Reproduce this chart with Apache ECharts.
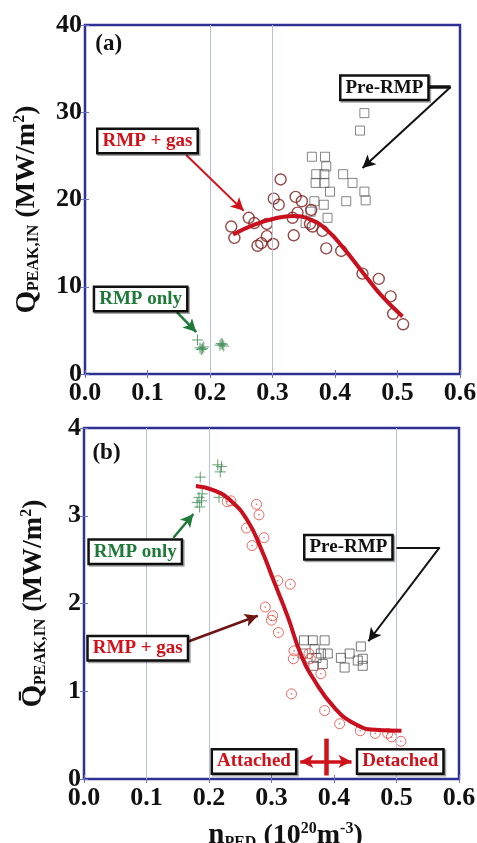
<!DOCTYPE html>
<html><head><meta charset="utf-8">
<script src="https://cdn.jsdelivr.net/npm/echarts@6/dist/echarts.min.js"></script>
<style>html,body{margin:0;padding:0;background:#fff}#c{width:477px;height:843px}</style>
</head><body><div id="c"></div>
<script>
// ---- data (a) ----
const xTicks = ['0.0','0.1','0.2','0.3','0.4','0.5','0.6'];
const aRmpGas = [[0.234,16.9],[0.239,15.6],[0.262,17.9],[0.271,17.3],[0.291,17.2],[0.276,14.7],[0.282,15.0],[0.291,15.8],[0.301,14.9],[0.302,20.1],[0.310,19.4],[0.313,22.3],[0.332,17.9],[0.334,15.9],[0.337,20.3],[0.340,18.5],[0.347,19.8],[0.362,18.8],[0.360,17.2],[0.364,16.9],[0.380,16.4],[0.386,14.4],[0.410,14.1],[0.444,11.5],[0.470,10.9],[0.489,8.9],[0.493,6.9],[0.509,5.7]];
const aPreRmp = [[0.447,29.9],[0.440,27.9],[0.363,24.9],[0.384,24.9],[0.386,23.8],[0.370,22.9],[0.383,22.9],[0.413,22.9],[0.369,21.9],[0.383,21.9],[0.428,21.9],[0.392,20.9],[0.447,20.9],[0.449,19.9],[0.418,19.8],[0.367,19.8],[0.382,19.4],[0.361,18.6],[0.388,17.9],[0.353,17.3]];
const aRmpOnly = [[0.180,3.9],[0.184,3.0],[0.188,2.9],[0.190,3.1],[0.186,2.8],[0.216,3.3],[0.220,3.4],[0.222,3.2],[0.218,3.5]];
const aFit = [[0.237,16.0],[0.270,17.1],[0.302,17.8],[0.334,18.1],[0.361,17.7],[0.387,16.5],[0.414,14.4],[0.446,11.5],[0.473,9.1],[0.508,6.6]];
// ---- data (b) ----
const bRmpGas = [[0.229,3.16],[0.235,3.17],[0.276,3.13],[0.280,3.01],[0.260,2.86],[0.288,2.75],[0.269,2.66],[0.310,2.26],[0.330,2.22],[0.290,1.96],[0.302,1.86],[0.300,1.81],[0.311,1.67],[0.336,1.46],[0.335,1.37],[0.360,1.43],[0.362,1.37],[0.379,1.20],[0.332,0.97],[0.385,0.78],[0.409,0.63],[0.442,0.55],[0.466,0.52],[0.486,0.52],[0.492,0.48],[0.507,0.43]];
const bPreRmp = [[0.352,1.58],[0.366,1.58],[0.385,1.58],[0.369,1.48],[0.379,1.43],[0.390,1.43],[0.367,1.29],[0.382,1.31],[0.411,1.38],[0.425,1.43],[0.417,1.27],[0.443,1.51],[0.446,1.37],[0.438,1.35],[0.446,1.29],[0.350,1.43],[0.372,1.38]];
const bRmpOnly = [[0.186,3.44],[0.184,3.21],[0.188,3.17],[0.181,3.15],[0.185,3.10],[0.189,3.25],[0.214,3.58],[0.220,3.56],[0.218,3.50],[0.216,3.21]];
const bFit = [[0.179,3.34],[0.208,3.29],[0.235,3.17],[0.262,2.94],[0.283,2.63],[0.304,2.25],[0.326,1.85],[0.347,1.42],[0.369,1.12],[0.401,0.81],[0.433,0.63],[0.465,0.56],[0.508,0.55]];
const aYTicks = [0,10,20,30,40];
const bYTicks = [0,1,2,3,4];

const SERIF = 'Liberation Serif';
const RED = '#d0121b', GREEN = '#1f7a3a', DARKRED = '#7b1c1c', BORDER = '#2e3192', TICK = '#6b73c0';
const CROSS = 'path://M0,5L10,5M5,0L5,10';

function xAx(gi, pos, labels, extra) {
  return Object.assign({
    type:'value', gridIndex:gi, position:pos, min:0, max:0.6, interval:0.1,
    axisLine:{show:false}, splitLine:{show:false},
    axisTick:{show:true, inside:true, length:4, lineStyle:{color:TICK, width:1}},
    axisLabel:{show:labels, margin:6, fontFamily:SERIF, fontWeight:'bold', fontSize:26, color:'#111',
      formatter:(v)=>xTicks[Math.round(v*10)]}
  }, extra||{});
}
function yAx(gi, pos, max, iv, labels, ticks, extra) {
  return Object.assign({
    type:'value', gridIndex:gi, position:pos, min:0, max:max, interval:iv,
    axisLine:{show:false}, splitLine:{show:false},
    axisTick:{show:true, inside:true, length:4, lineStyle:{color:TICK, width:1}},
    axisLabel:{show:labels, margin:3, fontFamily:SERIF, fontWeight:'bold', fontSize:26, color:'#111',
      formatter:(v)=>String(ticks[Math.round(v/iv)])}
  }, extra||{});
}
const base = {fontFamily:SERIF, fontWeight:'bold', color:'#111', lineHeight:36};
const nameRich = {
  q:Object.assign({}, base, {fontSize:29, verticalAlign:'middle'}),
  n:Object.assign({}, base, {fontSize:29, verticalAlign:'middle'}),
  s:Object.assign({}, base, {fontSize:16, verticalAlign:'bottom', padding:[0,0,3,0]}),
  u:Object.assign({}, base, {fontSize:28, verticalAlign:'middle'}),
  p:Object.assign({}, base, {fontSize:16, verticalAlign:'top', padding:[3,0,0,0]})
};

function boxLabel(name, coord, color) {
  return {name:name, coord:coord, label:{color:color}};
}
function mp(items) {
  return {
    symbol:'rect', symbolSize:1, itemStyle:{color:'rgba(0,0,0,0)'}, silent:true,
    label:{show:true, position:'inside', formatter:'{b}', fontFamily:SERIF, fontWeight:'bold', fontSize:19,
      backgroundColor:'#fff', borderColor:'#111', borderWidth:2.5, padding:[2,4,1,4],
      shadowColor:'rgba(0,0,0,0.35)', shadowOffsetX:1.5, shadowOffsetY:1.5},
    data:items
  };
}
function arrow(from, to, color, w, sym) {
  return [{coord:from, symbol:(sym&&sym[0])||'none', lineStyle:{color:color, width:w, type:'solid'}},
          {coord:to, symbol:(sym&&sym[1])||'arrow'}];
}
function ml(items) {
  return {silent:true, symbolSize:[10,13], label:{show:false}, lineStyle:{type:'solid'}, animation:false, data:items};
}
function gridLines(xs) {
  return {silent:true, symbol:['none','none'], label:{show:false}, lineStyle:{color:'#b9bee6', width:1, type:'solid'},
    data:xs.map(v=>({xAxis:v}))};
}

const option = {
  animation:false,
  backgroundColor:'#fff',
  grid:[
    {left:85, top:25, width:375, height:349, show:true, borderColor:BORDER, borderWidth:2.5, backgroundColor:'#fff', outerBoundsMode:'none', containLabel:false},
    {left:84, top:428, width:375, height:351, show:true, borderColor:BORDER, borderWidth:2.5, backgroundColor:'#fff', outerBoundsMode:'none', containLabel:false}
  ],
  xAxis:[
    xAx(0,'bottom',true),
    xAx(0,'top',false),
    xAx(1,'bottom',true,{name:'{n|n}{s|PED}{u| (10}{p|20}{u|m}{p|-3}{u|)}', nameLocation:'middle', nameGap:39,
      nameTextStyle:{rich:nameRich, padding:[0,0,0,28]}}),
    xAx(1,'top',false)
  ],
  yAxis:[
    yAx(0,'left',40,10,true,aYTicks,{name:'{q|Q}{s|PEAK,IN}{u| (MW/m}{p|2}{u|)}', nameLocation:'middle', nameRotate:90, nameGap:32,
      nameTextStyle:{rich:nameRich, padding:[0,20,0,0]}}),
    yAx(0,'right',40,10,false,aYTicks),
    yAx(1,'left',4,1,true,bYTicks,{name:'{q|Q\u0304}{s|PEAK,IN}{u| (MW/m}{p|2}{u|)}', nameLocation:'middle', nameRotate:90, nameGap:32,
      nameTextStyle:{rich:nameRich}}),
    yAx(1,'right',4,1,false,bYTicks)
  ],
  series:[
    // ----- panel (a) -----
    {type:'line', xAxisIndex:0, yAxisIndex:0, data:[], markLine:gridLines([0.2,0.3]), z:1},
    {type:'scatter', xAxisIndex:0, yAxisIndex:0, data:aPreRmp, symbol:'rect', symbolSize:9,
      itemStyle:{color:'rgba(0,0,0,0)', borderColor:'#555', borderWidth:0.9}, z:3},
    {type:'scatter', xAxisIndex:0, yAxisIndex:0, data:aRmpGas, symbol:'circle', symbolSize:11,
      itemStyle:{color:'rgba(0,0,0,0)', borderColor:DARKRED, borderWidth:1.4}, z:4},
    {type:'scatter', xAxisIndex:0, yAxisIndex:0, data:aRmpOnly, symbol:CROSS, symbolSize:11,
      itemStyle:{color:'rgba(0,0,0,0)', borderColor:'#3d8a52', borderWidth:1}, z:4},
    {type:'line', xAxisIndex:0, yAxisIndex:0, data:aFit, smooth:true, showSymbol:false, symbol:'none',
      lineStyle:{color:'#c8101e', width:4}, z:5,
      markLine:ml([
        arrow([0.162,25.1],[0.254,18.7],RED,2),
        arrow([0.147,7.1],[0.178,4.8],GREEN,2.5),
        arrow([0.530,32.9],[0.585,32.9],'#111',3.5,['none','none']),
        arrow([0.585,32.9],[0.444,23.6],'#111',2)
      ]),
      markPoint:mp([
        boxLabel('RMP + gas',[0.100,26.7],RED),
        boxLabel('RMP only',[0.089,8.6],GREEN),
        boxLabel('Pre-RMP',[0.479,32.8],'#111'),
        {name:'(a)', coord:[0.038,37.8], label:{color:'#111', fontSize:23, backgroundColor:'transparent', borderWidth:0, shadowColor:'transparent'}}
      ])
    },
    // ----- panel (b) -----
    {type:'line', xAxisIndex:2, yAxisIndex:2, data:[], markLine:gridLines([0.1,0.2,0.5]), z:1},
    {type:'scatter', xAxisIndex:2, yAxisIndex:2, data:bPreRmp, symbol:'rect', symbolSize:9,
      itemStyle:{color:'rgba(0,0,0,0)', borderColor:'#444', borderWidth:0.9}, z:3},
    {type:'scatter', xAxisIndex:2, yAxisIndex:2, data:bRmpGas, symbol:'circle', symbolSize:10,
      itemStyle:{color:'rgba(0,0,0,0)', borderColor:'#e8453c', borderWidth:1}, z:4},
    {type:'scatter', xAxisIndex:2, yAxisIndex:2, data:bRmpGas, symbol:'circle', symbolSize:1.6,
      itemStyle:{color:'#e8453c'}, z:4},
    {type:'scatter', xAxisIndex:2, yAxisIndex:2, data:bRmpOnly, symbol:CROSS, symbolSize:11,
      itemStyle:{color:'rgba(0,0,0,0)', borderColor:'#3d8a52', borderWidth:1}, z:4},
    {type:'line', xAxisIndex:2, yAxisIndex:2, data:bFit, smooth:true, showSymbol:false, symbol:'none',
      lineStyle:{color:'#c8101e', width:4}, z:5,
      markLine:ml([
        arrow([0.143,2.75],[0.175,3.02],GREEN,2.5),
        arrow([0.168,1.57],[0.278,1.86],'#6d1414',2.5),
        arrow([0.500,2.64],[0.569,2.64],'#111',2,['none','none']),
        arrow([0.569,2.64],[0.455,1.57],'#111',2),
        arrow([0.346,0.2],[0.428,0.2],RED,3.5,['arrow','arrow']),
        arrow([0.387,0.04],[0.387,0.46],RED,4.5,['none','none'])
      ]),
      markPoint:mp([
        boxLabel('RMP only',[0.082,2.59],GREEN),
        boxLabel('RMP + gas',[0.086,1.49],RED),
        boxLabel('Pre-RMP',[0.423,2.64],'#111'),
        boxLabel('Attached',[0.272,0.2],RED),
        boxLabel('Detached',[0.506,0.2],RED),
        {name:'(b)', coord:[0.036,3.72], label:{color:'#111', fontSize:23, backgroundColor:'transparent', borderWidth:0, shadowColor:'transparent'}}
      ])
    }
  ]
};
const chart = echarts.init(document.getElementById('c'), null, {renderer:'canvas'});
chart.setOption(option);
</script></body></html>
